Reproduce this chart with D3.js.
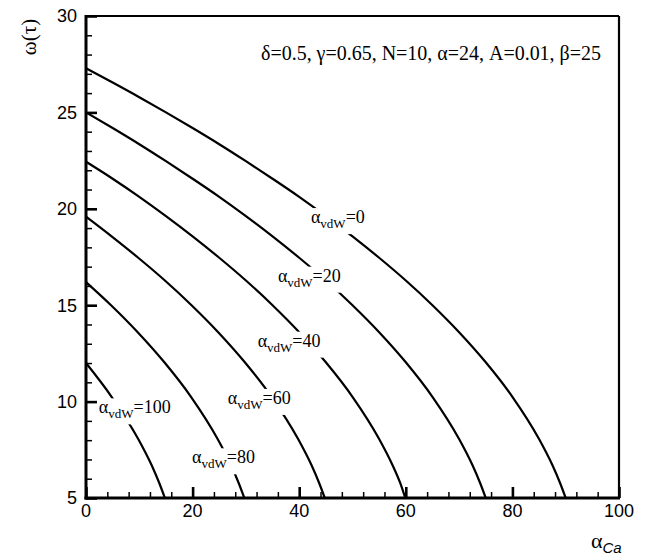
<!DOCTYPE html>
<html>
<head>
<meta charset="utf-8">
<script src="https://cdn.jsdelivr.net/npm/d3@7"></script>
<style>
  body { margin: 0; background: #fff; }
  svg { display: block; }
</style>
</head>
<body>
<div id="chart"></div>
<script>
// values, one pair of arrays per curve
var caVdw0 = [0, 5, 10, 15, 20, 25, 30, 35, 40, 45, 50, 55, 60, 65, 70, 75, 80, 85, 87.5, 89, 90],
	wVdw0 = [27.29, 26.55, 25.79, 25.0, 24.19, 23.35, 22.47, 21.56, 20.62, 19.62, 18.57, 17.46, 16.28, 15.0, 13.6, 12.04, 10.25, 8.06, 6.71, 5.74, 5.0];
var caVdw20 = [0, 5, 10, 15, 20, 25, 30, 35, 40, 45, 50, 55, 60, 65, 70, 72.5, 74, 75],
	wVdw20 = [25.0, 24.19, 23.35, 22.47, 21.56, 20.62, 19.62, 18.57, 17.46, 16.28, 15.0, 13.6, 12.04, 10.25, 8.06, 6.71, 5.74, 5.0];
var caVdw40 = [0, 5, 10, 15, 20, 25, 30, 35, 40, 45, 50, 55, 57.5, 59, 59.9],
	wVdw40 = [22.44, 21.56, 20.62, 19.62, 18.57, 17.46, 16.28, 15.0, 13.6, 12.04, 10.25, 8.06, 6.71, 5.74, 5.0];
var caVdw60 = [0, 4.8, 9.8, 14.8, 19.8, 24.8, 29.8, 34.8, 39.8, 42.3, 43.8, 44.8],
	wVdw60 = [19.59, 18.57, 17.46, 16.28, 15.0, 13.6, 12.04, 10.25, 8.06, 6.71, 5.74, 5.0];
var caVdw80 = [0, 4.7, 9.7, 14.7, 19.7, 24.7, 27.2, 28.7, 29.7],
	wVdw80 = [16.2, 15.0, 13.6, 12.04, 10.25, 8.06, 6.71, 5.74, 5.0];
var caVdw100 = [0, 4.8, 9.8, 12.3, 13.8, 14.8],
	wVdw100 = [12.0, 10.25, 8.06, 6.71, 5.74, 5.0];

var vdwValues = ["0", "20", "40", "60", "80", "100"];
var xTicks = [0, 20, 40, 60, 80, 100],
	yTicks = [5, 10, 15, 20, 25, 30];
var paramText = "δ=0.5, γ=0.65, N=10, α=24, A=0.01, β=25";

// where each curve label sits (data units, left end of the alpha, baseline)
var labelAt = [[42.2, 19.26], [36.0, 16.22], [32.2, 12.85], [26.6, 9.88], [19.9, 6.8], [2.4, 9.39]];

(function () {
	var W = 648, H = 556,
		mLeft = 86, mRight = 619, mTop = 16, mBottom = 498;

	var svg = d3.select("#chart").append("svg").attr("width", W).attr("height", H);

	var x = d3.scaleLinear().domain([0, 100]).range([mLeft, mRight]);
	var y = d3.scaleLinear().domain([5, 30]).range([mBottom, mTop]);

	var curves = [
		[caVdw0, wVdw0], [caVdw20, wVdw20], [caVdw40, wVdw40],
		[caVdw60, wVdw60], [caVdw80, wVdw80], [caVdw100, wVdw100]
	];

	var line = d3.line()
		.x(function (d) { return x(d[0]); })
		.y(function (d) { return y(d[1]); })
		.curve(d3.curveMonotoneX);

	svg.append("g").selectAll("path")
		.data(curves)
		.enter()
		.append("path")
		.attr("d", function (c) { return line(d3.zip(c[0], c[1])); })
		.attr("fill", "none")
		.attr("stroke", "#000")
		.attr("stroke-width", 2.2);

	// curve labels, with a white patch so the line breaks under them
	var labels = svg.append("g").selectAll("g")
		.data(vdwValues)
		.enter()
		.append("g");

	labels.each(function (v, i) {
		var g = d3.select(this);
		var t = g.append("text")
			.attr("x", x(labelAt[i][0]))
			.attr("y", y(labelAt[i][1]))
			.style("font-family", "'Liberation Serif', 'Times New Roman', serif")
			.style("font-size", "18px");
		t.append("tspan").text("α");
		t.append("tspan").attr("dy", 5).style("font-size", "13px").text("vdW");
		t.append("tspan").attr("dy", -5).text("=" + v);
		var b = t.node().getBBox();
		g.insert("rect", "text")
			.attr("x", b.x - 3)
			.attr("y", b.y + 1)
			.attr("width", b.width + 6)
			.attr("height", b.height + 2)
			.attr("fill", "#fff");
	});

	// axes: ticks pointing inward on left and bottom
	var xAxis = d3.axisTop(x).tickValues(d3.range(0, 101, 4)).tickSize(6).tickFormat("");
	var gx = svg.append("g").attr("transform", "translate(0," + mBottom + ")").call(xAxis);
	gx.selectAll(".tick line").attr("y2", function (d) {
		return d % 20 === 0 ? -11 : -6;
	}).attr("stroke-width", function (d) { return d % 20 === 0 ? 2.6 : 1.5; });
	gx.select(".domain").remove();

	var yAxis = d3.axisRight(y).tickValues(d3.range(5, 31, 1)).tickSize(6).tickFormat("");
	var gy = svg.append("g").attr("transform", "translate(" + mLeft + ",0)").call(yAxis);
	gy.selectAll(".tick line").attr("x2", function (d) {
		return d % 5 === 0 ? 11 : 6;
	}).attr("stroke-width", function (d) { return d % 5 === 0 ? 2.6 : 1.5; });
	gy.select(".domain").remove();

	svg.selectAll(".tick text").remove();

	svg.append("g").selectAll("text")
		.data(xTicks)
		.enter()
		.append("text")
		.attr("x", function (d) { return x(d); })
		.attr("y", mBottom + 19)
		.attr("text-anchor", "middle")
		.style("font-family", "'Liberation Sans', Arial, sans-serif")
		.style("font-size", "18px")
		.text(function (d) { return d; });

	svg.append("g").selectAll("text")
		.data(yTicks)
		.enter()
		.append("text")
		.attr("x", mLeft - 9)
		.attr("y", function (d) { return y(d); })
		.attr("dy", "0.36em")
		.attr("text-anchor", "end")
		.style("font-family", "'Liberation Sans', Arial, sans-serif")
		.style("font-size", "18px")
		.text(function (d) { return d; });

	// frame
	svg.append("line").attr("x1", mLeft).attr("x2", mRight).attr("y1", mTop).attr("y2", mTop)
		.attr("stroke", "#000").attr("stroke-width", 2.2);
	svg.append("line").attr("x1", mRight).attr("x2", mRight).attr("y1", mTop).attr("y2", mBottom)
		.attr("stroke", "#000").attr("stroke-width", 2.2);
	svg.append("line").attr("x1", mLeft).attr("x2", mLeft).attr("y1", mTop - 1).attr("y2", mBottom + 1.5)
		.attr("stroke", "#000").attr("stroke-width", 3);
	svg.append("line").attr("x1", mLeft - 1.5).attr("x2", mRight + 1).attr("y1", mBottom).attr("y2", mBottom)
		.attr("stroke", "#000").attr("stroke-width", 3);

	// parameter note
	svg.append("text")
		.attr("x", 261)
		.attr("y", 60)
		.attr("textLength", 340)
		.attr("lengthAdjust", "spacing")
		.style("font-family", "'Liberation Serif', 'Times New Roman', serif")
		.style("font-size", "20px")
		.text(paramText);

	// axis titles
	var xt = svg.append("text")
		.attr("x", 591)
		.attr("y", 548)
		.style("font-family", "'Liberation Serif', 'Times New Roman', serif")
		.style("font-size", "22px");
	xt.append("tspan").text("α");
	xt.append("tspan")
		.attr("dy", 5)
		.style("font-family", "'Liberation Sans', Arial, sans-serif")
		.style("font-style", "italic")
		.style("font-size", "15px")
		.text("Ca");

	svg.append("text")
		.attr("transform", "translate(36,37) rotate(-90)")
		.attr("text-anchor", "middle")
		.style("font-family", "'Liberation Serif', 'Times New Roman', serif")
		.style("font-size", "21px")
		.text("ω(τ)");
})();
</script>
</body>
</html>
